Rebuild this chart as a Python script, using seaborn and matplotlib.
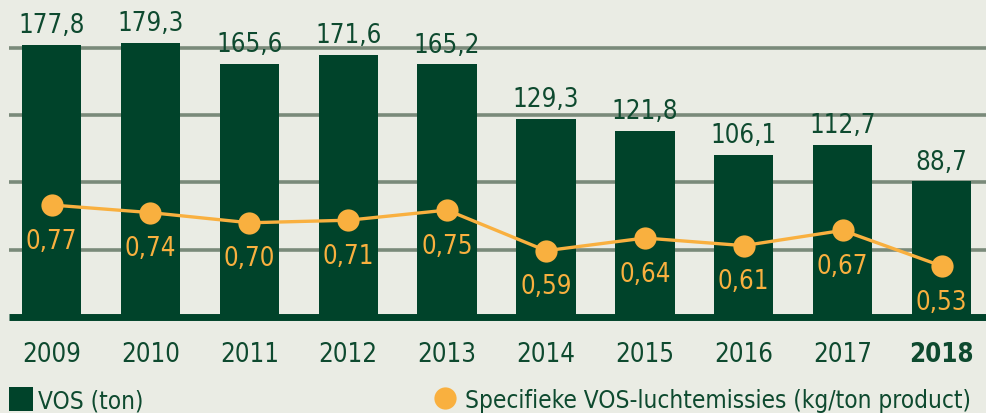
import matplotlib
matplotlib.use("Agg")
import matplotlib.pyplot as plt
import seaborn as sns
import numpy as np
import pandas as pd
from matplotlib.lines import Line2D
from matplotlib.patches import Patch

years = ["2009", "2010", "2011", "2012", "2013", "2014", "2015", "2016", "2017", "2018"]
vos_ton = [177.8, 179.3, 165.6, 171.6, 165.2, 129.3, 121.8, 106.1, 112.7, 88.7]
specific = [0.77, 0.74, 0.70, 0.71, 0.75, 0.59, 0.64, 0.61, 0.67, 0.53]
bar_labels = ["177,8", "179,3", "165,6", "171,6", "165,2", "129,3", "121,8", "106,1", "112,7", "88,7"]
line_labels = ["0,77", "0,74", "0,70", "0,71", "0,75", "0,59", "0,64", "0,61", "0,67", "0,53"]
legend_bar = "VOS (ton)"
legend_line = "Specifieke VOS-luchtemissies (kg/ton product)"

BG = "#eaece4"
GREEN = "#00432a"
TEXT = "#0e4a2f"
ORANGE = "#f9b03f"
GRID = "#7a8a7a"

sns.set_theme(style="white")
plt.rcParams["font.family"] = ["DejaVu Sans"]
plt.rcParams["font.stretch"] = "condensed"

FS = 18.5

W, H = 986, 414
fig = plt.figure(figsize=(W / 100, H / 100), dpi=100, facecolor=BG)
ax = fig.add_axes([9 / W, (H - 318) / H, (986 - 9) / W, 318 / H])
ax.set_facecolor(BG)

df = pd.DataFrame({"year": years, "vos": vos_ton, "spec": specific, "pos": np.arange(len(years))})

for g in [44, 88, 132, 176]:
    ax.axhline(g, color=GRID, lw=2.6, zorder=0)

sns.barplot(data=df, x="year", y="vos", color=GREEN, width=0.6, saturation=1, ax=ax,
            zorder=2, linewidth=0, edgecolor=GREEN)
ax.set_xlim(-0.43, 9.45)
ax.set_ylim(0, 208)
ax.axhline(0, color=GREEN, lw=5, zorder=3, clip_on=False, solid_capstyle="butt")
for i, (v, t) in enumerate(zip(vos_ton, bar_labels)):
    ax.text(i, v + 4.5, t, ha="center", va="bottom", color=TEXT, fontsize=FS, fontstretch="condensed")

ax.set_xlabel("")
ax.set_ylabel("")
ax.set_yticks([])
ax.set_xticks(range(len(years)))
ax.set_xticklabels(years, color=TEXT, fontsize=FS, fontstretch="condensed")
ax.get_xticklabels()[-1].set_fontweight("bold")
ax.tick_params(axis="x", length=0, pad=17)
for s in ax.spines.values():
    s.set_visible(False)

ax2 = ax.twinx()
sns.lineplot(data=df, x="pos", y="spec", color=ORANGE, lw=2.4, marker="o", markersize=16,
             markeredgewidth=0, ax=ax2, zorder=4)
ax2.set_ylim(0.329, 1.581)
ax2.set_xlim(-0.43, 9.45)
ax2.set_yticks([])
ax2.set_xlabel("")
ax2.set_ylabel("")
for s in ax2.spines.values():
    s.set_visible(False)
for i, (v, t) in enumerate(zip(specific, line_labels)):
    ax2.text(i, v - 0.14, t, ha="center", va="center", color=ORANGE, fontsize=FS,
             fontstretch="condensed")

h1 = [Patch(facecolor=GREEN, edgecolor="none")]
h2 = [Line2D([], [], color=ORANGE, marker="o", linestyle="none", markersize=16, markeredgewidth=0)]
fig.legend(h1, [legend_bar], loc="center left", bbox_to_anchor=(-3 / W, (H - 401) / H),
           frameon=False, handlelength=1.0, handleheight=1.15,
           handletextpad=0.2, borderpad=0, labelcolor=TEXT,
           prop={"size": 17.5, "stretch": "condensed"})
fig.legend(h2, [legend_line], loc="center left", bbox_to_anchor=(418 / W, (H - 401) / H),
           frameon=False, handlelength=1.2, handletextpad=0.25,
           borderpad=0, labelcolor=TEXT, prop={"size": 17.5, "stretch": "condensed"})

fig.savefig("out.png", dpi=100, facecolor=BG)
